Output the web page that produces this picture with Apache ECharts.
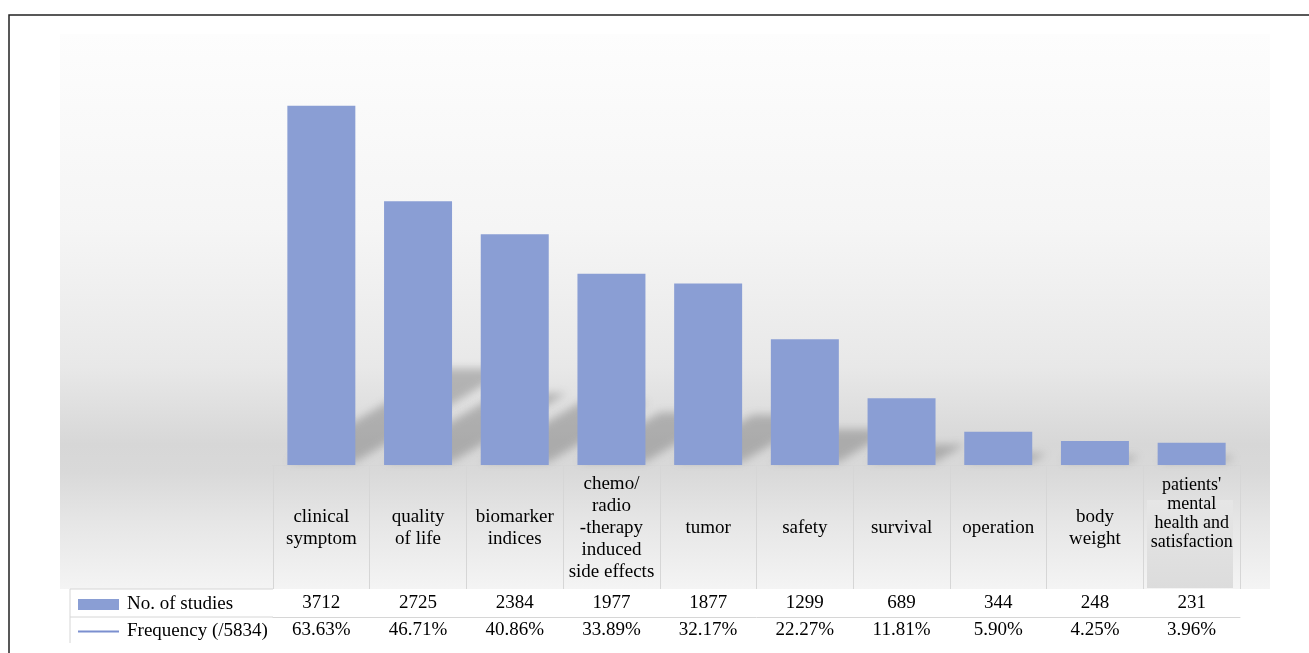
<!DOCTYPE html>
<html>
<head>
<meta charset="utf-8">
<script src="https://cdn.jsdelivr.net/npm/echarts@6/dist/echarts.min.js"></script>
<style>
html,body{margin:0;padding:0;background:#fff;}
#chart{width:1309px;height:653px;}
</style>
</head>
<body>
<div id="chart"></div>
<script>
const categories = [
  "clinical\nsymptom",
  "quality\nof life",
  "biomarker\nindices",
  "chemo/\nradio\n-therapy\ninduced\nside effects",
  "tumor",
  "safety",
  "survival",
  "operation",
  "body\nweight",
  "patients'\nmental\nhealth and\nsatisfaction"
];
const studies = [3712, 2725, 2384, 1977, 1877, 1299, 689, 344, 248, 231];
const frequencyLabels = ["63.63%", "46.71%", "40.86%", "33.89%", "32.17%", "22.27%", "11.81%", "5.90%", "4.25%", "3.96%"];
const seriesNames = ["No. of studies", "Frequency (/5834)"];

const FONT = "Liberation Serif";
const BAR_COLOR = "#8a9ed4";
const BORDER = "#d6d6d6";

const chart = echarts.init(document.getElementById('chart'), null, {renderer: 'canvas'});

function headerFormatter(value, index) {
  if (index === categories.length - 1) {
    return value.split('\n').map(l => '{s|' + l + '}').join('\n') + '\n{g| }';
  }
  return value;
}

const OFF = 3000;

const option = {
  animation: false,
  backgroundColor: '#ffffff',
  grid: {left: 273, right: 69, top: 78, bottom: 188, containLabel: false},
  legend: {
    orient: 'vertical',
    left: 73,
    top: 590,
    itemWidth: 41,
    itemHeight: 11,
    itemGap: 8,
    selectedMode: false,
    textStyle: {fontFamily: FONT, fontSize: 19, color: '#000', lineHeight: 19, padding: [0, 0, 0, 3]},
    data: [
      {name: seriesNames[0], icon: 'rect', itemStyle: {color: BAR_COLOR}},
      {name: seriesNames[1], icon: 'path://M0,0 L40,0 L40,2 L0,2 Z', itemStyle: {color: '#7b8fcf'}}
    ]
  },
  xAxis: [
    {
      type: 'category', data: categories, position: 'bottom',
      axisLine: {show: true, lineStyle: {color: BORDER}},
      axisTick: {show: true, length: 124, interval: 0, lineStyle: {color: BORDER}},
      axisLabel: {
        interval: 0, margin: 63, verticalAlign: 'middle', fontFamily: FONT, fontSize: 19, lineHeight: 22, color: '#000',
        formatter: headerFormatter,
        rich: {
          s: {fontFamily: FONT, fontSize: 18, lineHeight: 19, color: '#000'},
          g: {fontFamily: FONT, fontSize: 10, lineHeight: 28}
        }
      }
    },
    {
      type: 'category', data: studies.map(String), position: 'bottom', offset: 124,
      axisLine: {show: true, lineStyle: {color: BORDER}},
      axisTick: {show: true, length: 54, interval: 0, lineStyle: {color: BORDER}},
      axisLabel: {interval: 0, margin: 14, verticalAlign: 'middle', fontFamily: FONT, fontSize: 19, color: '#000'}
    },
    {
      type: 'category', data: frequencyLabels, position: 'bottom', offset: 152,
      axisLine: {show: true, lineStyle: {color: BORDER}},
      axisTick: {show: false},
      axisLabel: {interval: 0, margin: 13, verticalAlign: 'middle', fontFamily: FONT, fontSize: 19, color: '#000'}
    }
  ],
  yAxis: [
    {type: 'value', min: 0, max: 4000, show: false, splitLine: {show: false}},
    {type: 'value', min: 0, max: 100, show: false, splitLine: {show: false}}
  ],
  graphic: [
    {type: 'rect', z: -20, silent: true, shape: {x: 60, y: 34, width: 1210, height: 555},
      style: {fill: new echarts.graphic.LinearGradient(0, 0, 0, 1, [
        {offset: 0, color: '#fdfdfd'},
        {offset: 0.35, color: '#f5f5f5'},
        {offset: 0.6, color: '#e8e8e8'},
        {offset: 0.74, color: '#d7d7d7'},
        {offset: 0.79, color: '#d9d9d9'},
        {offset: 0.88, color: '#e6e6e6'},
        {offset: 1, color: '#f4f4f4'}
      ])}},
    {type: 'rect', z: -19, silent: true, shape: {x: 1147, y: 500, width: 86, height: 88},
      style: {fill: new echarts.graphic.LinearGradient(0, 0, 0, 1, [
        {offset: 0, color: '#e6e6e6'},
        {offset: 1, color: '#dcdcdc'}
      ])}},
    {type: 'rect', z: -18, silent: true, shape: {x: 70, y: 589, width: 1170, height: 54}, style: {fill: '#ffffff'}},
    {type: 'line', z: -5, silent: true, shape: {x1: 70, y1: 589, x2: 273, y2: 589}, style: {stroke: BORDER, lineWidth: 1}},
    {type: 'line', z: -5, silent: true, shape: {x1: 70, y1: 617, x2: 273, y2: 617}, style: {stroke: BORDER, lineWidth: 1}},
    {type: 'line', z: -5, silent: true, shape: {x1: 70, y1: 589, x2: 70, y2: 643}, style: {stroke: BORDER, lineWidth: 1}},
    {type: 'polyline', z: 50, silent: true, shape: {points: [[9, 653], [9, 15], [1309, 15]]}, style: {stroke: '#222', lineWidth: 1.5, fill: null}}
  ],
  series: [
    {
      type: 'custom',
      name: 'shadow',
      z: 1,
      silent: true,
      clip: false,
      data: studies.map((v, i) => [i, v]),
      encode: {x: 0, y: 1},
      renderItem: function (params, api) {
        const base = api.coord([api.value(0), 0]);
        const top = api.coord([api.value(0), api.value(1)]);
        const bw = api.size([1, 0])[0] * 0.703;
        const H = (base[1] - top[1]) * 0.26;
        const dx = H / 0.6;
        const x0 = base[0] - bw / 2 - OFF, x1 = base[0] + bw / 2 - OFF, y0 = base[1] - 3;
        return {
          type: 'polygon',
          shape: {points: [[x0, y0], [x1, y0], [x1 + dx, y0 - H], [x0 + dx, y0 - H]]},
          style: {
            fill: '#000',
            shadowBlur: 9,
            shadowOffsetX: OFF,
            shadowOffsetY: 0,
            shadowColor: 'rgba(110,110,110,0.42)'
          }
        };
      }
    },
    {
      type: 'bar',
      name: seriesNames[0],
      z: 3,
      data: studies,
      barWidth: '70.3%',
      itemStyle: {color: BAR_COLOR}
    },
    {
      type: 'line',
      name: seriesNames[1],
      yAxisIndex: 1,
      data: [],
      showSymbol: false,
      lineStyle: {color: '#7b8fcf'}
    }
  ]
};
chart.setOption(option);
</script>
</body>
</html>
